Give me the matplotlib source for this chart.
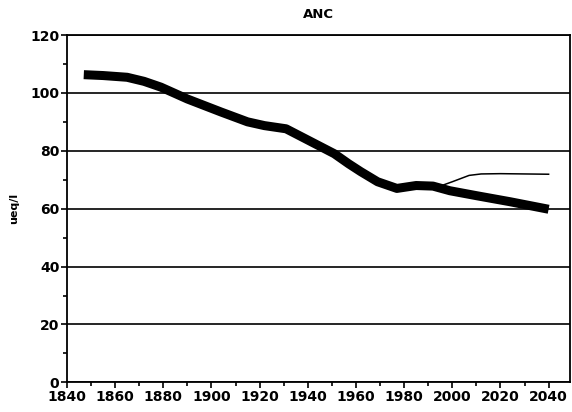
import matplotlib
matplotlib.use("Agg")
import matplotlib.pyplot as plt
from matplotlib.ticker import MultipleLocator

# thick line: simulated ANC (ueq/l)
years = [1847, 1855, 1865, 1872, 1879, 1890, 1904, 1915, 1922, 1931,
         1941, 1951, 1957, 1962, 1969, 1977, 1985, 1992, 1999, 2010, 2024, 2040]
anc = [106.3, 106.0, 105.4, 104.0, 102.0, 97.9, 93.4, 90.0, 88.7, 87.6,
       83.3, 79.0, 75.5, 72.8, 69.3, 67.0, 68.0, 67.8, 66.2, 64.5, 62.4, 59.8]

# thin branch line
years2 = [1995, 2000, 2007, 2012, 2020, 2040]
anc2 = [67.8, 69.3, 71.5, 72.0, 72.1, 71.9]

plt.rcParams['font.family'] = ['DejaVu Sans']
plt.rcParams['font.weight'] = 'bold'

fig = plt.figure(figsize=(5.72, 4.12), dpi=100)
ax = fig.add_axes([0.117, 0.072, 0.88, 0.843])

ax.plot(years2, anc2, color='black', linewidth=1.1, zorder=3)
ax.plot(years, anc, color='black', linewidth=6.5, solid_capstyle='butt',
        solid_joinstyle='round', zorder=4)

ax.set_xlim(1840, 2049)
ax.set_ylim(0, 120)
ax.xaxis.set_major_locator(MultipleLocator(20))
ax.xaxis.set_minor_locator(MultipleLocator(10))
ax.yaxis.set_major_locator(MultipleLocator(20))
ax.yaxis.set_minor_locator(MultipleLocator(10))
ax.grid(axis='y', which='major', color='black', linewidth=1.2)
ax.tick_params(which='major', direction='out', length=4, width=1.2, labelsize=10, pad=1.5)
ax.tick_params(which='minor', direction='out', length=3, width=1.2)
for s in ax.spines.values():
    s.set_linewidth(1.3)
for lab in ax.get_xticklabels() + ax.get_yticklabels():
    lab.set_fontweight('bold')

ax.set_title('ANC', fontsize=9.5, fontweight='bold', pad=12)
ax.set_ylabel('ueq/l', fontsize=8, fontweight='bold', labelpad=8)

fig.savefig('out.png', dpi=100)
